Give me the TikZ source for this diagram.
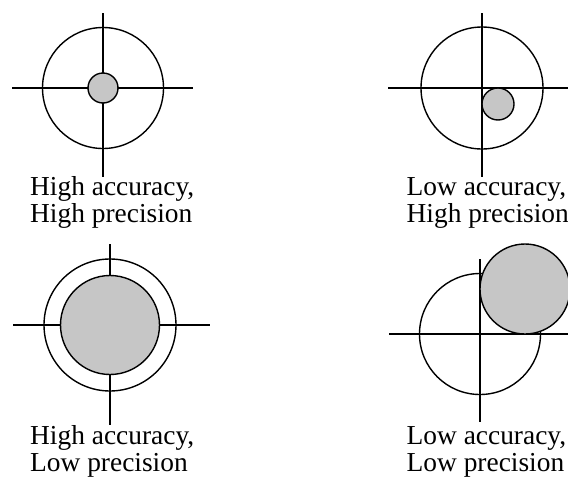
\documentclass[tikz,border=0pt]{standalone}
\usepackage{fontspec}
\setmainfont{Liberation Serif}
\newcommand{\twoline}[2]{\begin{tabular}[t]{@{}l@{}}#1\\#2\end{tabular}}
\begin{document}
\begin{tikzpicture}[x=1pt,y=-1pt,line width=1.4pt,
  shot/.style={draw,fill=gray!45},
  caption/.style={anchor=base west,inner sep=0pt,font=\fontsize{27.4}{27}\selectfont}]
\useasboundingbox (0,0) rectangle (568,477);
\clip (0,0) rectangle (568,477);
% High accuracy, high precision
\draw (12,88) -- (193,88);
\draw (103,13) -- (103,177);
\draw (103,88) circle[radius=60.5];
\draw[shot] (103,88) circle[radius=15];
\node[caption] (hahp) at (29.5,195) {\twoline{High accuracy,}{High precision}};
% Low accuracy, high precision
\draw (388,88) -- (575,88);
\draw (482,13) -- (482,177);
\draw (482,88) circle[radius=61];
\draw[shot] (498,104) circle[radius=16];
\node[caption] (lahp) at (406,195) {\twoline{Low accuracy,}{High precision}};
% High accuracy, low precision
\draw (13,325) -- (210,325);
\draw (110,244) -- (110,425);
\draw (110,325) circle[radius=66];
\draw[shot] (110,325) circle[radius=49.5];
\node[caption] (halp) at (29.5,444) {\twoline{High accuracy,}{Low precision}};
% Low accuracy, low precision
\draw (389,334) -- (575,334);
\draw (480,259) -- (480,422);
\draw (480,334) circle[radius=60.5];
\draw[shot] (525,289) circle[radius=45];
\node[caption] (lalp) at (406,444) {\twoline{Low accuracy,}{Low precision}};
\end{tikzpicture}
\end{document}
